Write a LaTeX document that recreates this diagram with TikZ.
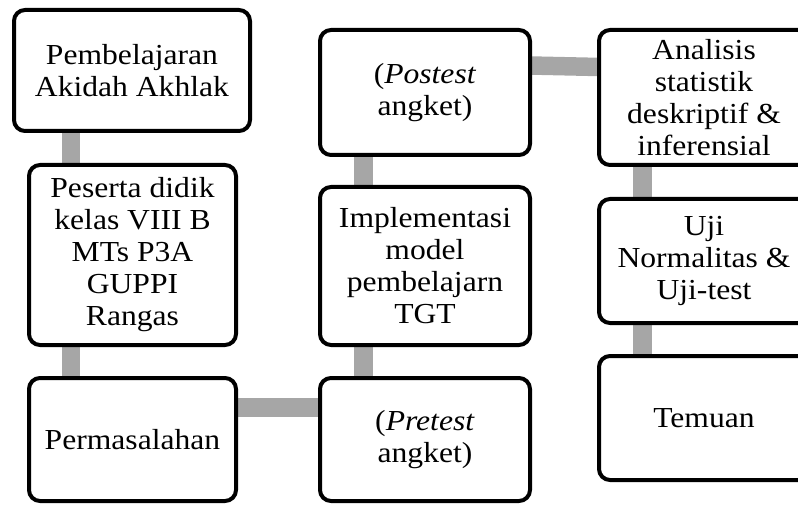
\documentclass[tikz,border=0pt]{standalone}
\usepackage{fontspec}
\setmainfont{Liberation Serif}[FakeStretch=1.09]
\usetikzlibrary{backgrounds}
\definecolor{conngray}{RGB}{166,166,166}
\tikzset{
  box/.style={draw=black, fill=white, line width=4pt, rounded corners=11pt,
    inner sep=0pt, outer sep=0pt, align=center,
    font=\fontsize{29}{32}\selectfont},
  conn/.style={draw=conngray, line width=18.5pt}
}
\begin{document}
\begin{tikzpicture}[x=1pt,y=-1pt]
\clip (0,0) rectangle (798,505);
\node[box, minimum width=236pt, minimum height=121pt] (A) at (132,70.5) {Pembelajaran\\Akidah Akhlak};
\node[box, minimum width=207pt, minimum height=180pt] (B) at (132.5,255) {Peserta didik\\kelas VIII B\\MTs P3A\\GUPPI\\Rangas};
\node[box, minimum width=207pt, minimum height=123pt] (C) at (132.5,439.5) {Permasalahan};
\node[box, minimum width=210pt, minimum height=123pt] (D) at (425,439.5) {(\textit{Pretest}\\angket)};
\node[box, minimum width=210pt, minimum height=158pt] (E) at (425,266) {Implementasi\\model\\pembelajarn\\TGT};
\node[box, minimum width=210pt, minimum height=125pt] (F) at (425,92.5) {(\textit{Postest}\\angket)};
\node[box, minimum width=210pt, minimum height=135pt] (G) at (704,97.5) {Analisis\\statistik\\deskriptif \&\\inferensial};
\node[box, minimum width=210pt, minimum height=124pt] (H) at (704,261) {Uji\\Normalitas \&\\Uji-test};
\node[box, minimum width=210pt, minimum height=124pt] (I) at (704,418) {Temuan};
\begin{pgfonlayer}{background}
\draw[conn] ([xshift=57pt]A.south west) -- ([xshift=42pt]B.north west);
\draw[conn] ([xshift=42pt]B.south west) -- ([xshift=42pt]C.north west);
\draw[conn] ([yshift=-29.5pt]C.north east) -- ([yshift=-29.5pt]D.north west);
\draw[conn] ([xshift=43.5pt]D.north west) -- ([xshift=43.5pt]E.south west);
\draw[conn] ([xshift=43.5pt]E.north west) -- ([xshift=43.5pt]F.south west);
\draw[conn] ([yshift=-35.5pt]F.north east) -- ([yshift=-37pt]G.north west);
\draw[conn] ([xshift=43.5pt]G.south west) -- ([xshift=43.5pt]H.north west);
\draw[conn] ([xshift=43.5pt]H.south west) -- ([xshift=43.5pt]I.north west);
\end{pgfonlayer}
\end{tikzpicture}
\end{document}
